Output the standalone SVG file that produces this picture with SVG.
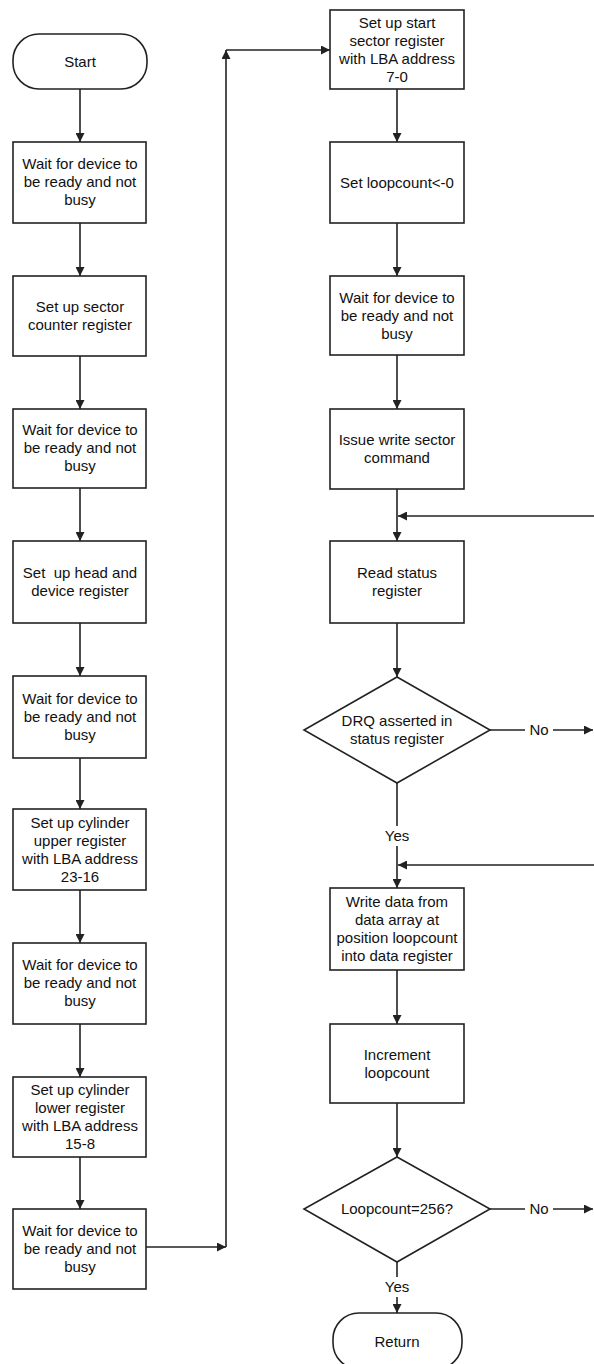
<svg xmlns="http://www.w3.org/2000/svg" width="594" height="1364" viewBox="0 0 594 1364">
<style>
.box{fill:#fff;stroke:#222;stroke-width:1.6}
.t{font-family:"Liberation Sans",Arial,sans-serif;font-size:15px;fill:#111;text-anchor:middle}
.c{fill:none;stroke:#222;stroke-width:1.6}
</style>
<defs>
<marker id="ah" viewBox="0 0 10 10" refX="10" refY="5" markerWidth="9" markerHeight="9" markerUnits="userSpaceOnUse" orient="auto">
<path d="M0,0 L10,5 L0,10 Z" fill="#222"/>
</marker>
</defs>
<rect width="594" height="1364" fill="#fff"/>

<g id="connectors">
<path class="c" d="M80,89 V142" marker-end="url(#ah)"/>
<path class="c" d="M80,223 V276" marker-end="url(#ah)"/>
<path class="c" d="M80,356 V409" marker-end="url(#ah)"/>
<path class="c" d="M80,488 V541" marker-end="url(#ah)"/>
<path class="c" d="M80,623 V676" marker-end="url(#ah)"/>
<path class="c" d="M80,758 V809" marker-end="url(#ah)"/>
<path class="c" d="M80,890 V943" marker-end="url(#ah)"/>
<path class="c" d="M80,1024 V1077" marker-end="url(#ah)"/>
<path class="c" d="M80,1157 V1209" marker-end="url(#ah)"/>
<path class="c" d="M146,1247 H226" marker-end="url(#ah)"/>
<path class="c" d="M226,1247 V50" marker-end="url(#ah)"/>
<path class="c" d="M226,50 H330" marker-end="url(#ah)"/>
<path class="c" d="M397,89 V142" marker-end="url(#ah)"/>
<path class="c" d="M397,223 V276" marker-end="url(#ah)"/>
<path class="c" d="M397,355 V409" marker-end="url(#ah)"/>
<path class="c" d="M397,489 V541" marker-end="url(#ah)"/>
<path class="c" d="M594,516 H398" marker-end="url(#ah)"/>
<path class="c" d="M397,623 V677" marker-end="url(#ah)"/>
<path class="c" d="M490,730 H525"/>
<text class="t" x="539" y="735">No</text>
<path class="c" d="M553,730 H593" marker-end="url(#ah)"/>
<path class="c" d="M397,783 V826"/>
<text class="t" x="397" y="841">Yes</text>
<path class="c" d="M397,846 V888" marker-end="url(#ah)"/>
<path class="c" d="M594,865 H398" marker-end="url(#ah)"/>
<path class="c" d="M397,970 V1024" marker-end="url(#ah)"/>
<path class="c" d="M397,1103 V1157" marker-end="url(#ah)"/>
<path class="c" d="M490,1209 H525"/>
<text class="t" x="539" y="1214">No</text>
<path class="c" d="M553,1209 H593" marker-end="url(#ah)"/>
<path class="c" d="M397,1262 V1277"/>
<text class="t" x="397" y="1292">Yes</text>
<path class="c" d="M397,1297 V1313" marker-end="url(#ah)"/>
</g>

<g id="start">
<rect class="box" x="13" y="34" width="134" height="55" rx="26" ry="26"/>
<text class="t" x="80" y="67">Start</text>
</g>
<g id="wait1">
<rect class="box" x="13" y="142" width="133" height="81"/>
<text class="t" x="80" y="169">Wait for device to</text>
<text class="t" x="80" y="187">be ready and not</text>
<text class="t" x="80" y="205">busy</text>
</g>
<g id="sector-counter">
<rect class="box" x="13" y="276" width="133" height="80"/>
<text class="t" x="80" y="312">Set up sector</text>
<text class="t" x="80" y="330">counter register</text>
</g>
<g id="wait2">
<rect class="box" x="13" y="409" width="133" height="79"/>
<text class="t" x="80" y="435">Wait for device to</text>
<text class="t" x="80" y="453">be ready and not</text>
<text class="t" x="80" y="471">busy</text>
</g>
<g id="head-device">
<rect class="box" x="13" y="541" width="133" height="82"/>
<text class="t" x="80" y="578" style="white-space:pre">Set  up head and</text>
<text class="t" x="80" y="596">device register</text>
</g>
<g id="wait3">
<rect class="box" x="13" y="676" width="133" height="82"/>
<text class="t" x="80" y="704">Wait for device to</text>
<text class="t" x="80" y="722">be ready and not</text>
<text class="t" x="80" y="740">busy</text>
</g>
<g id="cyl-upper">
<rect class="box" x="13" y="809" width="133" height="81"/>
<text class="t" x="80" y="828">Set up cylinder</text>
<text class="t" x="80" y="846">upper register</text>
<text class="t" x="80" y="864">with LBA address</text>
<text class="t" x="80" y="882">23-16</text>
</g>
<g id="wait4">
<rect class="box" x="13" y="943" width="133" height="81"/>
<text class="t" x="80" y="970">Wait for device to</text>
<text class="t" x="80" y="988">be ready and not</text>
<text class="t" x="80" y="1006">busy</text>
</g>
<g id="cyl-lower">
<rect class="box" x="13" y="1077" width="133" height="80"/>
<text class="t" x="80" y="1095">Set up cylinder</text>
<text class="t" x="80" y="1113">lower register</text>
<text class="t" x="80" y="1131">with LBA address</text>
<text class="t" x="80" y="1149">15-8</text>
</g>
<g id="wait5">
<rect class="box" x="13" y="1209" width="133" height="80"/>
<text class="t" x="80" y="1236">Wait for device to</text>
<text class="t" x="80" y="1254">be ready and not</text>
<text class="t" x="80" y="1272">busy</text>
</g>

<g id="start-sector">
<rect class="box" x="330" y="10" width="134" height="79"/>
<text class="t" x="397" y="28">Set up start</text>
<text class="t" x="397" y="46">sector register</text>
<text class="t" x="397" y="64">with LBA address</text>
<text class="t" x="397" y="82">7-0</text>
</g>
<g id="set-loopcount">
<rect class="box" x="330" y="142" width="134" height="81"/>
<text class="t" x="397" y="188">Set loopcount&lt;-0</text>
</g>
<g id="wait6">
<rect class="box" x="330" y="276" width="134" height="79"/>
<text class="t" x="397" y="303">Wait for device to</text>
<text class="t" x="397" y="321">be ready and not</text>
<text class="t" x="397" y="339">busy</text>
</g>
<g id="issue-write">
<rect class="box" x="330" y="409" width="134" height="80"/>
<text class="t" x="397" y="445">Issue write sector</text>
<text class="t" x="397" y="463">command</text>
</g>
<g id="read-status">
<rect class="box" x="330" y="541" width="134" height="82"/>
<text class="t" x="397" y="578">Read status</text>
<text class="t" x="397" y="596">register</text>
</g>
<g id="drq">
<polygon class="box" points="397,677 490,730 397,783 304,730"/>
<text class="t" x="397" y="726">DRQ asserted in</text>
<text class="t" x="397" y="744">status register</text>
</g>
<g id="write-data">
<rect class="box" x="330" y="888" width="134" height="82"/>
<text class="t" x="397" y="907">Write data from</text>
<text class="t" x="397" y="925">data array at</text>
<text class="t" x="397" y="943">position loopcount</text>
<text class="t" x="397" y="961">into data register</text>
</g>
<g id="increment">
<rect class="box" x="330" y="1024" width="134" height="79"/>
<text class="t" x="397" y="1060">Increment</text>
<text class="t" x="397" y="1078">loopcount</text>
</g>
<g id="loop-check">
<polygon class="box" points="397,1157 490,1209 397,1262 304,1209"/>
<text class="t" x="397" y="1214">Loopcount=256?</text>
</g>
<g id="return">
<rect class="box" x="333" y="1313" width="129" height="56" rx="26" ry="26"/>
<text class="t" x="397" y="1347">Return</text>
</g>
</svg>
